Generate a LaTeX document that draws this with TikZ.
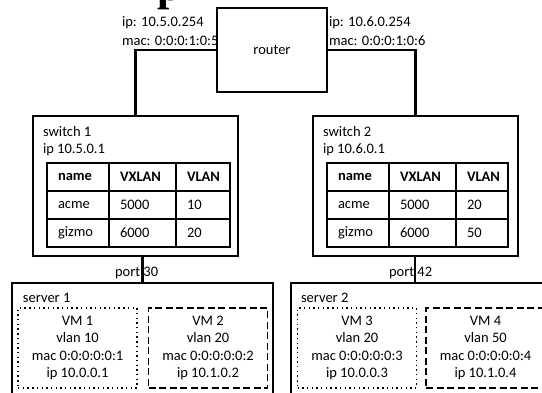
\documentclass[tikz,border=0pt]{standalone}
\usepackage{fontspec}
\setmainfont{Carlito}
\newfontfamily\headfont{Liberation Serif}

\begin{document}
\begin{tikzpicture}[x=1pt,y=-1pt,
  every node/.style={font=\fontsize{14.5}{17.6}\selectfont, inner sep=0pt, outer sep=0pt},
  unit/.style={draw, line width=1.4pt, minimum width=#1},
  link/.style={line width=2.8pt},
  grid/.style={line width=1.4pt},
  lbl/.style={anchor=west},
  head/.style={anchor=west, font=\fontsize{14.5}{17.6}\selectfont\bfseries},
  vmdot/.style={draw, line width=1.4pt, dash pattern=on 1.4pt off 3.3pt, minimum width=119pt, minimum height=80pt, align=center},
  vmdash/.style={draw, line width=1.4pt, dash pattern=on 7pt off 3.5pt, minimum width=119pt, minimum height=80pt, align=center}]

\useasboundingbox (0,0) rectangle (542,392);
\clip (0,0) rectangle (542,392);
\fill[white] (0,0) rectangle (542,392);

% heading, mostly outside the frame
\node[anchor=base west, font=\headfont\fontsize{44}{44}\selectfont\bfseries] (heading) at (157,0.3) {p};

% router and its interfaces
\node[unit=110pt, minimum height=84pt] (router) at (272,50) {router};
\node[lbl] (ipA) at (122,23) {ip: 10.5.0.254};
\node[lbl] (macA) at (122,41) {mac: 0:0:0:1:0:5};
\node[lbl] (ipB) at (329,23) {ip: 10.6.0.254};
\node[lbl] (macB) at (329,41) {mac: 0:0:0:1:0:6};

% switches
\node[unit=205pt, minimum height=140pt] (sw1) at (135.5,186) {};
\node[unit=205pt, minimum height=140pt] (sw2) at (415.5,186) {};
\node[lbl] (sw1name) at (43,132) {switch 1};
\node[lbl] (sw1ip) at (43,150) {ip 10.5.0.1};
\node[lbl] (sw2name) at (323,132) {switch 2};
\node[lbl] (sw2ip) at (323,150) {ip 10.6.0.1};

% links router -> switches
\draw[link] (router.west) -| (sw1.north);
\draw[link] (router.east) -| (sw2.north);

% VLAN table of switch 1
\draw[grid] (47,163) rectangle (230,247);
\draw[grid] (47,191) -- (230,191) (47,219) -- (230,219)
            (109,163) -- (109,247) (176,163) -- (176,247);
\node[head] (t1h1) at (58,177) {name};
\node[head] (t1h2) at (120,177) {VXLAN};
\node[head] (t1h3) at (187,177) {VLAN};
\node[lbl] (t1a1) at (58,205) {acme};
\node[lbl] (t1a2) at (120,205) {5000};
\node[lbl] (t1a3) at (187,205) {10};
\node[lbl] (t1b1) at (58,233) {gizmo};
\node[lbl] (t1b2) at (120,233) {6000};
\node[lbl] (t1b3) at (187,233) {20};

% VLAN table of switch 2
\draw[grid] (327,163) rectangle (508,247);
\draw[grid] (327,191) -- (508,191) (327,219) -- (508,219)
            (389,163) -- (389,247) (456,163) -- (456,247);
\node[head] (t2h1) at (338,177) {name};
\node[head] (t2h2) at (400,177) {VXLAN};
\node[head] (t2h3) at (467,177) {VLAN};
\node[lbl] (t2a1) at (338,205) {acme};
\node[lbl] (t2a2) at (400,205) {5000};
\node[lbl] (t2a3) at (467,205) {20};
\node[lbl] (t2b1) at (338,233) {gizmo};
\node[lbl] (t2b2) at (400,233) {6000};
\node[lbl] (t2b3) at (467,233) {50};

% servers
\node[unit=261pt, minimum height=117pt] (srv1) at (142.5,341.5) {};
\node[unit=261pt, minimum height=117pt] (srv2) at (421.5,341.5) {};
\node[lbl] (srv1name) at (23,298) {server 1};
\node[lbl] (srv2name) at (301,298) {server 2};

% uplinks switch -> server
\coordinate (portL) at (142.5,0);
\coordinate (portR) at (415,0);
\node[lbl] (p30) at (115,273) {port 30};
\node[lbl] (p42) at (389,273) {port 42};
\draw[link] (sw1.south -| portL) -- (srv1.north -| portL);
\draw[link] (sw2.south -| portR) -- (srv2.north -| portR);

% virtual machines
\node[vmdot] (vm1) at (77.5,348) {VM 1\\vlan 10\\mac 0:0:0:0:0:1\\ip 10.0.0.1};
\node[vmdash] (vm2) at (208,348) {VM 2\\vlan 20\\mac 0:0:0:0:0:2\\ip 10.1.0.2};
\node[vmdot] (vm3) at (357,348) {VM 3\\vlan 20\\mac 0:0:0:0:0:3\\ip 10.0.0.3};
\node[vmdash] (vm4) at (485.5,348) {VM 4\\vlan 50\\mac 0:0:0:0:0:4\\ip 10.1.0.4};

\end{tikzpicture}
\end{document}
